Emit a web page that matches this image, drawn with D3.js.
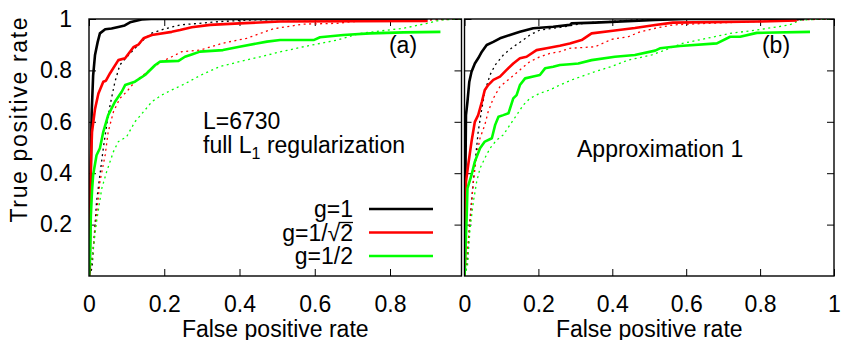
<!DOCTYPE html>
<html><head><meta charset="utf-8">
<script src="https://cdn.jsdelivr.net/npm/d3@7"></script>
<style>
html,body{margin:0;padding:0;background:#fff;}
text{font-family:"Liberation Sans",Arial,Helvetica,sans-serif;fill:#000;}
</style></head>
<body><svg id="c" width="841" height="340"></svg>
<script>
// ---------- data (fpr, tpr) ----------
const seriesNames = ["g=1", "g=1/\u221A2", "g=1/2"];
const seriesColors = ["#000000", "#ff0000", "#00ff00"];
const yTicks = [0.2, 0.4, 0.6, 0.8, 1];
const xTicksA = [0, 0.2, 0.4, 0.6, 0.8];
const xTicksB = [0, 0.2, 0.4, 0.6, 0.8, 1];

// panel (a): solid curves
const a_solid_g1 = [[0,0],[0.002,0.02],[0.003,0.2],[0.005,0.43],[0.007,0.63],[0.011,0.78],[0.016,0.86],[0.023,0.91],[0.029,0.944],[0.043,0.96],[0.06,0.963],[0.078,0.969],[0.095,0.975],[0.109,0.987],[0.14,0.998],[0.165,1],[0.9,1]];
const a_solid_g2 = [[0,0],[0.002,0.1],[0.003,0.34],[0.005,0.43],[0.008,0.56],[0.016,0.65],[0.025,0.71],[0.038,0.756],[0.045,0.76],[0.056,0.789],[0.078,0.84],[0.096,0.847],[0.118,0.89],[0.131,0.9],[0.145,0.925],[0.167,0.938],[0.22,0.95],[0.242,0.957],[0.273,0.968],[0.322,0.977],[0.40,0.983],[0.508,0.99],[0.9,0.992]];
const a_solid_g3 = [[0,0],[0.003,0.1],[0.005,0.237],[0.008,0.33],[0.011,0.393],[0.02,0.47],[0.029,0.497],[0.038,0.561],[0.051,0.626],[0.069,0.678],[0.087,0.717],[0.096,0.743],[0.122,0.756],[0.149,0.782],[0.176,0.821],[0.189,0.834],[0.238,0.837],[0.255,0.853],[0.273,0.862],[0.295,0.873],[0.356,0.879],[0.40,0.892],[0.473,0.912],[0.508,0.918],[0.597,0.918],[0.614,0.929],[0.676,0.938],[0.747,0.944],[0.836,0.948],[0.934,0.95]];
// panel (a): dotted curves
const a_dot_g1 = [[0,0],[0.008,0.03],[0.016,0.198],[0.02,0.289],[0.029,0.393],[0.038,0.497],[0.047,0.588],[0.056,0.665],[0.069,0.756],[0.082,0.821],[0.105,0.86],[0.122,0.886],[0.144,0.918],[0.167,0.945],[0.202,0.962],[0.242,0.977],[0.348,0.99],[0.446,0.997],[0.99,1]];
const a_dot_g2 = [[0,0],[0.005,0.03],[0.011,0.108],[0.02,0.237],[0.029,0.367],[0.043,0.471],[0.051,0.561],[0.065,0.639],[0.082,0.691],[0.1,0.717],[0.122,0.756],[0.144,0.782],[0.167,0.808],[0.193,0.834],[0.22,0.853],[0.247,0.873],[0.295,0.879],[0.356,0.906],[0.419,0.925],[0.49,0.962],[0.57,0.98],[0.659,0.983],[0.70,0.99],[0.907,0.996],[0.99,1]];
const a_dot_g3 = [[0,0],[0.007,0.056],[0.02,0.211],[0.034,0.341],[0.047,0.406],[0.065,0.484],[0.078,0.523],[0.1,0.542],[0.122,0.6],[0.149,0.646],[0.167,0.678],[0.193,0.704],[0.22,0.724],[0.255,0.748],[0.295,0.78],[0.348,0.815],[0.40,0.834],[0.455,0.853],[0.508,0.872],[0.57,0.892],[0.659,0.918],[0.72,0.944],[0.836,0.964],[0.898,0.983],[0.934,0.996],[0.99,1]];

// panel (b): solid curves
const b_solid_g1 = [[0,0],[0,0.017],[0.001,0.172],[0.004,0.626],[0.008,0.678],[0.013,0.756],[0.019,0.795],[0.028,0.827],[0.037,0.847],[0.047,0.873],[0.06,0.899],[0.078,0.911],[0.096,0.925],[0.123,0.938],[0.15,0.95],[0.186,0.964],[0.24,0.97],[0.285,0.977],[0.29,0.983],[0.353,0.986],[0.516,0.996],[0.6,1],[0.92,1]];
const b_solid_g2 = [[0,0],[0.002,0.1],[0.004,0.367],[0.01,0.432],[0.019,0.523],[0.028,0.6],[0.037,0.626],[0.047,0.678],[0.055,0.724],[0.064,0.743],[0.078,0.763],[0.096,0.776],[0.114,0.802],[0.132,0.827],[0.15,0.847],[0.168,0.853],[0.195,0.879],[0.222,0.886],[0.258,0.896],[0.285,0.905],[0.317,0.918],[0.344,0.944],[0.407,0.955],[0.461,0.965],[0.516,0.977],[0.564,0.986],[0.80,0.99],[0.899,0.994]];
const b_solid_g3 = [[0,0],[0.001,0.03],[0.006,0.237],[0.008,0.341],[0.019,0.393],[0.028,0.445],[0.042,0.497],[0.055,0.523],[0.074,0.536],[0.083,0.588],[0.092,0.62],[0.105,0.626],[0.119,0.633],[0.132,0.691],[0.141,0.704],[0.15,0.743],[0.164,0.769],[0.186,0.776],[0.204,0.782],[0.218,0.808],[0.24,0.814],[0.258,0.821],[0.285,0.824],[0.308,0.827],[0.344,0.84],[0.407,0.853],[0.461,0.86],[0.516,0.877],[0.529,0.886],[0.583,0.895],[0.683,0.905],[0.719,0.931],[0.746,0.931],[0.791,0.946],[0.935,0.95]];
// panel (b): dotted curves
const b_dot_g1 = [[0,0],[0.008,0.056],[0.013,0.185],[0.019,0.289],[0.028,0.432],[0.037,0.561],[0.047,0.652],[0.055,0.717],[0.069,0.782],[0.083,0.821],[0.105,0.86],[0.132,0.892],[0.159,0.918],[0.177,0.938],[0.204,0.957],[0.258,0.967],[0.334,0.986],[0.39,0.99],[0.5,1],[0.99,1]];
const b_dot_g2 = [[0,0],[0.005,0.056],[0.015,0.211],[0.024,0.367],[0.033,0.471],[0.042,0.536],[0.055,0.588],[0.064,0.639],[0.078,0.691],[0.096,0.737],[0.123,0.769],[0.15,0.802],[0.177,0.834],[0.204,0.853],[0.231,0.866],[0.258,0.873],[0.285,0.886],[0.353,0.892],[0.398,0.921],[0.443,0.931],[0.475,0.95],[0.516,0.964],[0.564,0.977],[0.655,0.983],[0.79,0.99],[0.9,0.996],[0.99,1]];
const b_dot_g3 = [[0,0],[0.008,0.04],[0.015,0.185],[0.024,0.289],[0.033,0.367],[0.042,0.419],[0.055,0.458],[0.069,0.497],[0.087,0.529],[0.105,0.549],[0.123,0.588],[0.141,0.626],[0.159,0.665],[0.177,0.691],[0.204,0.711],[0.231,0.724],[0.258,0.743],[0.29,0.763],[0.353,0.795],[0.398,0.815],[0.443,0.84],[0.507,0.86],[0.59,0.905],[0.719,0.944],[0.79,0.957],[0.88,0.977],[0.908,0.996],[0.99,1]];

// ---------- drawing ----------
const svg = d3.select("#c");
const FS = 23;
const yTop = 19, yBot = 276;
const y = d3.scaleLinear().domain([0,1]).range([yBot, yTop]);

const panels = [
  {id:"a", left:89, right:461.5, xmax:0.99, xticks:xTicksA, yLabels:true, label:"(a)", labelX:403,
   solid:[a_solid_g1,a_solid_g2,a_solid_g3], dot:[a_dot_g1,a_dot_g2,a_dot_g3]},
  {id:"b", left:464.5, right:834, xmax:1, xticks:xTicksB, yLabels:false, label:"(b)", labelX:776,
   solid:[b_solid_g1,b_solid_g2,b_solid_g3], dot:[b_dot_g1,b_dot_g2,b_dot_g3]}
];

const fmt = d3.format("~g");

panels.forEach(p => {
  const x = d3.scaleLinear().domain([0, p.xmax]).range([p.left, p.right]);
  const g = svg.append("g");
  const clipId = "clip-" + p.id;
  svg.append("clipPath").attr("id", clipId).append("rect")
    .attr("x", p.left).attr("y", yTop).attr("width", p.right - p.left).attr("height", yBot - yTop);

  // axes with inward ticks on all sides
  const ax = g.append("g").attr("transform", `translate(0,${yBot})`)
    .call(d3.axisBottom(x).tickValues(p.xticks).tickSize(-7).tickPadding(19.5).tickFormat(fmt));
  ax.selectAll("text").style("font-size", FS + "px");
  g.append("g").attr("transform", `translate(0,${yTop})`)
    .call(d3.axisTop(x).tickValues(p.xticks).tickSize(-7).tickFormat(""));
  const ay = g.append("g").attr("transform", `translate(${p.left},0)`)
    .call(d3.axisLeft(y).tickValues(yTicks).tickSize(-7).tickPadding(17).tickFormat(p.yLabels ? fmt : ""));
  ay.selectAll("text").style("font-size", FS + "px");
  g.append("g").attr("transform", `translate(${p.right},0)`)
    .call(d3.axisRight(y).tickValues(yTicks).tickSize(-7).tickFormat(""));
  g.selectAll(".domain").remove();
  g.selectAll(".tick line").attr("stroke", "#000").attr("stroke-width", 1);
  g.selectAll(".tick text").attr("fill", "#000").style("font-family", '"Liberation Sans",Arial,sans-serif');

  const line = d3.line().x(d => x(d[0])).y(d => y(d[1]));
  const lg = g.append("g").attr("clip-path", `url(#${clipId})`);
  p.dot.forEach((d, i) => {
    lg.append("path").attr("d", line(d)).attr("fill", "none")
      .attr("stroke", seriesColors[i]).attr("stroke-width", 1.3).attr("stroke-dasharray", "2,3.5");
  });
  p.solid.forEach((d, i) => {
    lg.append("path").attr("d", line(d)).attr("fill", "none")
      .attr("stroke", seriesColors[i]).attr("stroke-width", 2.6).attr("stroke-linejoin", "round");
  });

  // frame
  g.append("rect").attr("x", p.left).attr("y", yTop).attr("width", p.right - p.left).attr("height", yBot - yTop)
    .attr("fill", "none").attr("stroke", "#000").attr("stroke-width", 1.4);

  // panel label
  g.append("text").attr("x", p.labelX).attr("y", 53).attr("text-anchor", "middle")
    .style("font-size", FS + "px").text(p.label);

  // x axis title
  g.append("text").attr("x", (p.left + p.right) / 2).attr("y", 337).attr("text-anchor", "middle")
    .style("font-size", FS + "px").text("False positive rate");
});

// y axis title
svg.append("text").attr("transform", "translate(27,120) rotate(-90)").attr("text-anchor", "middle")
  .style("font-size", FS + "px").attr("textLength", 205).attr("lengthAdjust", "spacing")
  .text("True positive rate");

// annotations
svg.append("text").attr("x", 203).attr("y", 129).style("font-size", FS + "px").text("L=6730");
const t2 = svg.append("text").attr("x", 203).attr("y", 153).style("font-size", FS + "px");
t2.append("tspan").text("full L");
t2.append("tspan").attr("dy", 6).style("font-size", "16px").text("1");
t2.append("tspan").attr("dy", -6).text(" regularization");
svg.append("text").attr("x", 577).attr("y", 157).style("font-size", FS + "px").text("Approximation 1");

// legend
const legY = [209, 232.5, 256];
seriesNames.forEach((name, i) => {
  const base = legY[i] + 8;
  const t = svg.append("text").attr("x", 353).attr("y", base).attr("text-anchor", "end")
    .style("font-size", FS + "px").text(name);
  const k = name.indexOf("\u221A");
  if (k >= 0) {
    // vinculum over the radicand
    const node = t.node();
    const e1 = node.getExtentOfChar(k), e2 = node.getExtentOfChar(name.length - 1);
    svg.append("line").attr("x1", e1.x + e1.width - 1.5).attr("x2", e2.x + e2.width)
      .attr("y1", base - 18).attr("y2", base - 18).attr("stroke", "#000").attr("stroke-width", 1.3);
  }
  svg.append("line").attr("x1", 369).attr("x2", 433).attr("y1", legY[i]).attr("y2", legY[i])
    .attr("stroke", seriesColors[i]).attr("stroke-width", 2.6);
});
</script></body></html>
